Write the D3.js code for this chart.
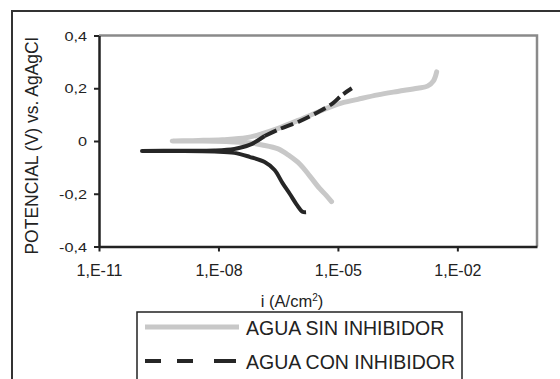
<!DOCTYPE html>
<html><head><meta charset="utf-8">
<script src="https://cdn.jsdelivr.net/npm/d3@7"></script>
<style>
html,body{margin:0;padding:0;background:#fff;}
svg{display:block;font-family:Arial,"Liberation Sans",sans-serif;}
</style></head>
<body>
<svg id="chart" width="560" height="379"></svg>
<script>
// ---- data (log10 of current density i in A/cm², potential V vs Ag/AgCl) ----
const seriesNames = ["AGUA SIN INHIBIDOR", "AGUA CON INHIBIDOR"];
const sinLogI = [-5.16,-5.3,-5.46,-5.71,-5.96,-6.21,-6.5,-6.9,-7.3,-7.8,-8.4,-9.16,-8.5,-7.9,-7.3,-6.9,-6.5,-6.0,-5.5,-5.0,-4.5,-4.0,-3.5,-3.0,-2.75,-2.6,-2.52];
const sinV    = [-0.23,-0.205,-0.18,-0.132,-0.087,-0.057,-0.03,-0.015,-0.006,-0.002,0.0,0.0,0.002,0.005,0.012,0.028,0.048,0.078,0.11,0.14,0.158,0.175,0.188,0.2,0.208,0.228,0.262];
const conLogI = [-5.8,-5.89,-6.04,-6.21,-6.39,-6.59,-6.84,-7.22,-7.6,-8.1,-9.0,-9.92,-9.0,-8.1,-7.6,-7.22,-6.84,-6.47,-5.96,-5.46,-5.13,-4.9,-4.65];
const conV    = [-0.27,-0.268,-0.24,-0.2,-0.16,-0.11,-0.08,-0.06,-0.045,-0.04,-0.038,-0.038,-0.037,-0.036,-0.03,-0.015,0.019,0.045,0.075,0.113,0.143,0.174,0.2];
const xTickValues = [1e-11, 1e-8, 1e-5, 1e-2];
const xTickLabels = ["1,E-11", "1,E-08", "1,E-05", "1,E-02"];
const yTickValues = [-0.4, -0.2, 0, 0.2, 0.4];
const yTickLabels = ["-0,4", "-0,2", "0", "0,2", "0,4"];
const xTitle = "i (A/cm";
const xTitleSup = "2";
const yTitle = "POTENCIAL (V) vs. AgAgCl";

// ---- layout ----
const svg = d3.select("#chart");
const L = 99, R = 537, T = 35.5, B = 246.5;
const x = d3.scaleLog().domain([1e-11, 1]).range([L, R]);
const y = d3.scaleLinear().domain([-0.4, 0.4]).range([B, T]);

// outer frame
svg.append("path").attr("d", `M12,400 L12,11 L600,11`)
  .attr("fill", "none").attr("stroke", "#333").attr("stroke-width", 2);

// plot border (top/right gray)
svg.append("path").attr("d", `M${L},${T} L${R},${T} L${R},${B}`)
  .attr("fill", "none").attr("stroke", "#8a8a8a").attr("stroke-width", 2.5);

const toPts = (li, v) => li.map((d, i) => [10 ** d, v[i]]);
const line = d3.line().x(d => x(d[0])).y(d => y(d[1])).curve(d3.curveCatmullRom.alpha(0.5));

// gray series
svg.append("path").datum(toPts(sinLogI, sinV)).attr("d", line)
  .attr("fill", "none").attr("stroke", "#c8c8c8").attr("stroke-width", 5)
  .attr("stroke-linecap", "round").attr("stroke-linejoin", "round");

// dark series: dense part appears solid, sparse anodic part dashed
const conPts = toPts(conLogI, conV);
const minIdx = conLogI.indexOf(d3.min(conLogI));
let k = conLogI.findIndex((d, i) => i > minIdx && d >= -6.9);
svg.append("path").datum(conPts.slice(0, k + 1)).attr("d", line)
  .attr("fill", "none").attr("stroke", "#262626").attr("stroke-width", 4)
  .attr("stroke-linejoin", "round");
svg.append("path").datum(conPts.slice(k)).attr("d", line)
  .attr("fill", "none").attr("stroke", "#262626").attr("stroke-width", 4)
  .attr("stroke-dasharray", "13,5");

// axes
const yAxis = svg.append("g").attr("transform", `translate(${L},0)`)
  .call(d3.axisLeft(y).tickValues(yTickValues).tickSize(5).tickSizeOuter(0)
    .tickFormat((d, i) => yTickLabels[i]));
const xAxis = svg.append("g").attr("transform", `translate(0,${B})`)
  .call(d3.axisBottom(x).tickValues(xTickValues).tickSize(5).tickSizeOuter(0)
    .tickFormat((d, i) => xTickLabels[i]));
[yAxis, xAxis].forEach(g => {
  g.select(".domain").attr("stroke", "#222").attr("stroke-width", 2.5);
  g.selectAll(".tick line").attr("stroke", "#222").attr("stroke-width", 2);
});
const sx = 1.25;
yAxis.selectAll(".tick text").attr("font-size", 13).attr("fill", "#222")
  .attr("x", -12 / sx).attr("dy", "0.36em").attr("transform", `scale(${sx},1)`);
xAxis.selectAll(".tick text").attr("font-size", 16).attr("fill", "#222")
  .attr("y", 29).attr("dy", 0);

// axis titles
const xt = svg.append("text").attr("x", 292).attr("y", 307).attr("text-anchor", "middle")
  .attr("font-size", 16.5).attr("fill", "#222");
xt.append("tspan").text(xTitle);
xt.append("tspan").text(xTitleSup).attr("font-size", 10).attr("dy", -6);
xt.append("tspan").text(")").attr("dy", 6);

svg.append("text").attr("transform", "translate(38,146) rotate(-90)")
  .attr("text-anchor", "middle").attr("font-size", 17.5).attr("fill", "#222").text(yTitle);

// legend
const lg = svg.append("g");
lg.append("rect").attr("x", 137).attr("y", 312).attr("width", 325).attr("height", 120)
  .attr("fill", "#fff").attr("stroke", "#222").attr("stroke-width", 1.5);
const rows = [
  { y: 327, stroke: "#c8c8c8", w: 5, dash: null },
  { y: 361, stroke: "#262626", w: 4, dash: "16,16,16,21,22" }
];
rows.forEach((r, i) => {
  lg.append("line").attr("x1", 145).attr("x2", 239).attr("y1", r.y).attr("y2", r.y)
    .attr("stroke", r.stroke).attr("stroke-width", r.w).attr("stroke-dasharray", r.dash);
  lg.append("text").attr("x", 246).attr("y", r.y + 8).attr("font-size", 19.5)
    .attr("fill", "#222").text(seriesNames[i]);
});
</script>
</body></html>
